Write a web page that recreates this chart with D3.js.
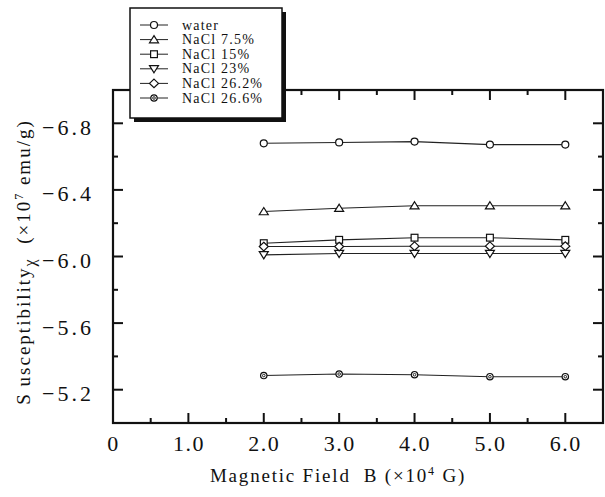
<!DOCTYPE html>
<html>
<head>
<meta charset="utf-8">
<script src="https://cdn.jsdelivr.net/npm/d3@7"></script>
<style>
  body { margin: 0; background: #fff; }
  text { font-family: "Liberation Serif", "DejaVu Serif", serif; fill: #111; }
</style>
</head>
<body>
<script>
// field values (x 10^4 G)
const fields = [2, 3, 4, 5, 6];

// susceptibility (x 10^-7 emu/g)
const water   = [-6.68, -6.685, -6.69, -6.672, -6.672];
const nacl75  = [-6.27, -6.29, -6.305, -6.305, -6.305];
const nacl15  = [-6.08, -6.10, -6.113, -6.113, -6.10];
const nacl23  = [-6.01, -6.018, -6.018, -6.018, -6.018];
const nacl262 = [-6.06, -6.06, -6.062, -6.062, -6.062];
const nacl266 = [-5.285, -5.294, -5.29, -5.278, -5.278];

const seriesNames = ["water", "NaCl 7.5%", "NaCl 15%", "NaCl 23%", "NaCl 26.2%", "NaCl 26.6%"];
const seriesValues = [water, nacl75, nacl15, nacl23, nacl262, nacl266];
const seriesMarkers = ["circle", "triangle", "square", "triangleDown", "diamond", "dotCircle"];

const xTicks = [0, 1, 2, 3, 4, 5, 6];
const yTicks = [-6.8, -6.4, -6.0, -5.6, -5.2];

const width = 605, height = 497;
const margin = {top: 90, right: 2, bottom: 74, left: 113};

const x = d3.scaleLinear().domain([0, 6.5]).range([margin.left, width - margin.right]);
const y = d3.scaleLinear().domain([-7.0, -5.0]).range([margin.top, height - margin.bottom]);

const svg = d3.select("body").append("svg")
    .attr("width", width)
    .attr("height", height);

// draws one marker shape centred at 0,0
function marker(sel, kind) {
  const s = sel.append("g");
  if (kind === "circle") {
    s.append("circle").attr("r", 3.5);
  } else if (kind === "square") {
    s.append("rect").attr("x", -3.4).attr("y", -3.4).attr("width", 6.8).attr("height", 6.8);
  } else if (kind === "triangle") {
    s.append("path").attr("d", "M0,-4L4.5,3.2L-4.5,3.2Z");
  } else if (kind === "triangleDown") {
    s.append("path").attr("d", "M0,4L4.5,-3.2L-4.5,-3.2Z");
  } else if (kind === "diamond") {
    s.append("path").attr("d", "M0,-4.3L4.5,0L0,4.3L-4.5,0Z");
  } else {
    s.append("circle").attr("r", 3.2);
    s.append("circle").attr("r", 1.3).attr("stroke-width", 0.9);
  }
  s.selectAll("*").attr("fill", "#fff").attr("stroke", "#111");
  s.selectAll("circle,rect,path").filter(function() { return !this.getAttribute("stroke-width"); })
    .attr("stroke-width", 1.2);
  return s;
}

// inward ticks on all four sides
const xMinor = d3.range(0.5, 6.5, 1);
const yMinor = [-6.6, -6.2, -5.8, -5.4];

function ticks(g, scale, vals, len, orient) {
  vals.forEach(v => {
    const p = scale(v);
    if (orient === "bottom") g.append("line").attr("x1", p).attr("x2", p).attr("y1", y.range()[1]).attr("y2", y.range()[1] - len);
    if (orient === "top") g.append("line").attr("x1", p).attr("x2", p).attr("y1", y.range()[0]).attr("y2", y.range()[0] + len);
    if (orient === "left") g.append("line").attr("y1", p).attr("y2", p).attr("x1", x.range()[0]).attr("x2", x.range()[0] + len);
    if (orient === "right") g.append("line").attr("y1", p).attr("y2", p).attr("x1", x.range()[1]).attr("x2", x.range()[1] - len);
  });
}

const tg = svg.append("g").attr("stroke", "#111").attr("stroke-width", 2);
ticks(tg, x, xTicks.slice(1), 10, "bottom");
ticks(tg, x, xMinor, 5, "bottom");
ticks(tg, x, xTicks.slice(1), 10, "top");
ticks(tg, x, xMinor, 5, "top");
ticks(tg, y, yTicks, 10, "left");
ticks(tg, y, yMinor, 5, "left");
ticks(tg, y, yTicks, 10, "right");
ticks(tg, y, yMinor, 5, "right");

svg.append("rect")
    .attr("x", x.range()[0]).attr("y", y.range()[0])
    .attr("width", x.range()[1] - x.range()[0])
    .attr("height", y.range()[1] - y.range()[0])
    .attr("fill", "none").attr("stroke", "#111").attr("stroke-width", 2.2);

// tick labels through axes (ticks hidden, frame drawn above)
const xAxis = d3.axisBottom(x).tickValues(xTicks).tickSize(0).tickPadding(12)
    .tickFormat(d => d === 0 ? "0" : d.toFixed(1));
svg.append("g")
    .attr("transform", `translate(0,${y.range()[1]})`)
    .call(xAxis)
    .call(g => g.select(".domain").remove())
    .selectAll("text")
    .attr("font-family", "Liberation Serif").attr("font-size", 22)
    .attr("letter-spacing", 1.5).attr("fill", "#111");

const yAxis = d3.axisLeft(y).tickValues(yTicks).tickSize(0).tickPadding(19)
    .tickFormat(d3.format(".1f"));
svg.append("g")
    .attr("transform", `translate(${x.range()[0]},4)`)
    .call(yAxis)
    .call(g => g.select(".domain").remove())
    .selectAll("text")
    .attr("font-family", "Liberation Serif").attr("font-size", 22)
    .attr("letter-spacing", 3).attr("fill", "#111");

// axis titles
const xt = svg.append("text")
    .attr("x", 338).attr("y", 482)
    .attr("text-anchor", "middle")
    .attr("font-size", 19).attr("letter-spacing", 1.8);
xt.append("tspan").text("Magnetic Field\u00a0\u00a0B (\u00d710");
xt.append("tspan").attr("dy", -7).attr("font-size", 12).text("4");
xt.append("tspan").attr("dy", 7).text(" G)");

const yt = svg.append("text")
    .attr("transform", "translate(30,262) rotate(-90)")
    .attr("text-anchor", "middle")
    .attr("font-size", 19).attr("letter-spacing", 2);
yt.append("tspan").text("S\u2009usceptibility");
yt.append("tspan").attr("dy", 5).attr("font-size", 16).text("\u03c7");
yt.append("tspan").attr("dy", -5).text("\u00a0 (\u00d710");
yt.append("tspan").attr("dy", -7).attr("font-size", 12).text("7");
yt.append("tspan").attr("dy", 7).text(" emu/g)");

// lines and markers
const line = d3.line().x((d, i) => x(fields[i])).y(d => y(d));
seriesValues.forEach((vals, k) => {
  svg.append("path")
      .attr("d", line(vals))
      .attr("fill", "none").attr("stroke", "#222").attr("stroke-width", 1.1);
  vals.forEach((v, i) => {
    marker(svg, seriesMarkers[k]).attr("transform", `translate(${x(fields[i])},${y(v)})`);
  });
});

// legend box with drop shadow
const lg = svg.append("g");
lg.append("rect").attr("x", 134).attr("y", 12).attr("width", 152).attr("height", 110).attr("fill", "#111");
lg.append("rect").attr("x", 130).attr("y", 8).attr("width", 152).attr("height", 110)
    .attr("fill", "#fff").attr("stroke", "#111").attr("stroke-width", 1.5);

seriesNames.forEach((name, k) => {
  const ly = 25 + k * 14.6;
  lg.append("line").attr("x1", 140).attr("x2", 168).attr("y1", ly).attr("y2", ly)
      .attr("stroke", "#222").attr("stroke-width", 1);
  marker(lg, seriesMarkers[k]).attr("transform", `translate(154,${ly})`);
  lg.append("text").attr("x", 182).attr("y", ly + 4.5)
      .attr("font-size", 14).attr("letter-spacing", 1.2)
      .text(name);
});
</script>
</body>
</html>
